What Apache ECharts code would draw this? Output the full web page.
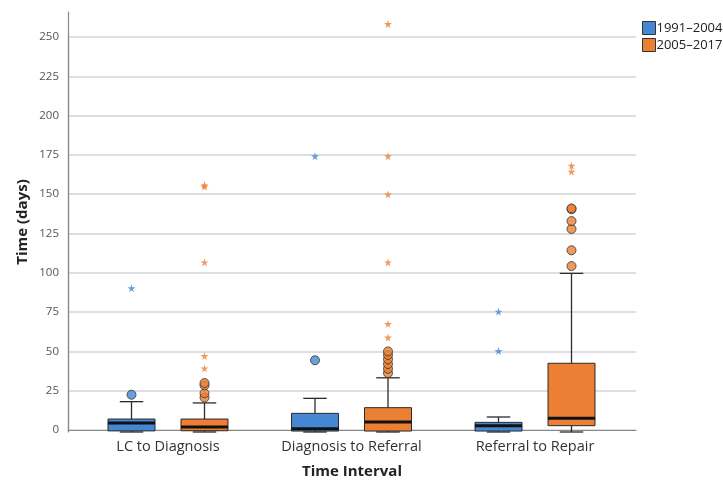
<!DOCTYPE html>
<html><head><meta charset="utf-8">
<script src="https://cdn.jsdelivr.net/npm/echarts@6/dist/echarts.min.js"></script>
<style>html,body{margin:0;padding:0;background:#fff}#c{width:723px;height:484px}</style>
</head><body><div id="c"></div>
<script>
const categories = ['LC to Diagnosis', 'Diagnosis to Referral', 'Referral to Repair'];
const seriesNames = ['1991–2004', '2005–2017'];
const yTicks = [0, 25, 50, 75, 100, 125, 150, 175, 200, 225, 250];
// [min, Q1, median, Q3, max] per category
const box1991 = [[0, 0.7, 5.7, 8.2, 19.2], [0, 0.6, 2.1, 11.8, 21.3], [0, 0.6, 4.0, 6.1, 9.5]];
const box2005 = [[0, 0.8, 3.2, 8.2, 18.4], [0, 0.6, 6.3, 15.4, 34.3], [0, 4.0, 8.7, 43.5, 100.4]];
// outliers (circles): [categoryIndex, value]
const out1991 = [[0, 23.6], [1, 45.4]];
const out2005 = [[0, 21.8], [0, 24.5], [0, 29.5], [0, 31], [1, 37.3], [1, 40], [1, 43], [1, 46], [1, 48.8], [1, 51], [2, 105], [2, 115], [2, 128.5], [2, 133.5], [2, 141], [2, 141.5]];
// extremes (stars): [categoryIndex, value]
const ext1991 = [[0, 91], [1, 174.5], [2, 76.2], [2, 51.3]];
const ext2005 = [[0, 40.3], [0, 48.1], [0, 107.4], [0, 155.3], [0, 156.2], [1, 59.8], [1, 68.4], [1, 107.4], [1, 150.4], [1, 174.5], [1, 258.2], [2, 164.8], [2, 168.5]];

const BLUE = '#4587d2', ORANGE = '#eb7f34';
const BOX_W = 47, OFF = 36.5;
const STAR = 'path://M50,0 L61,35 L98,35 L68,57 L79,91 L50,70 L21,91 L32,57 L2,35 L39,35 Z';

function toRows(box) { return box.map((b, i) => [i].concat(b)); }
function makeRender(offset) {
  return function (params, api) {
    const cat = api.value(0);
    const lo = api.coord([cat, api.value(1)]);
    const q1 = api.coord([cat, api.value(2)]);
    const med = api.coord([cat, api.value(3)]);
    const q3 = api.coord([cat, api.value(4)]);
    const hi = api.coord([cat, api.value(5)]);
    const x = lo[0] + offset, hw = BOX_W / 2, cw = BOX_W / 4;
    const st = { stroke: '#2b2b2b', lineWidth: 1.3 };
    return { type: 'group', children: [
      { type: 'line', shape: { x1: x, y1: hi[1], x2: x, y2: q3[1] }, style: st },
      { type: 'line', shape: { x1: x, y1: lo[1], x2: x, y2: q1[1] }, style: st },
      { type: 'line', shape: { x1: x - cw, y1: hi[1], x2: x + cw, y2: hi[1] }, style: st },
      { type: 'line', shape: { x1: x - cw, y1: lo[1], x2: x + cw, y2: lo[1] }, style: st },
      { type: 'rect', shape: { x: x - hw, y: q3[1], width: BOX_W, height: q1[1] - q3[1] }, style: { fill: api.visual('color'), stroke: '#2b2b2b', lineWidth: 1 } },
      { type: 'line', shape: { x1: x - hw, y1: med[1], x2: x + hw, y2: med[1] }, style: { stroke: '#111', lineWidth: 3 } }
    ] };
  };
}

const chart = echarts.init(document.getElementById('c'), null, { renderer: 'canvas' });
const axisFont = 'Open Sans';
chart.setOption({
  animation: false,
  textStyle: { fontFamily: axisFont },
  legend: {
    orient: 'vertical', left: 637, top: 16, itemGap: 3, itemWidth: 13, itemHeight: 13,
    textStyle: { fontSize: 13, color: '#222', fontFamily: axisFont, padding: [0, 0, 0, -4] },
    data: [
      { name: seriesNames[0], icon: 'rect', itemStyle: { color: BLUE, borderColor: '#333', borderWidth: 1 } },
      { name: seriesNames[1], icon: 'rect', itemStyle: { color: ORANGE, borderColor: '#333', borderWidth: 1 } }
    ]
  },
  grid: [
    { left: 68, right: 87, top: 37, bottom: 52 },      // visual grid
    { left: 68, right: 87, top: 12, bottom: 52 },      // axis-line extension
    { left: 76.25, right: 96.25, top: 37, bottom: 52 } // data grid
  ],
  xAxis: [
    { gridIndex: 0, type: 'value', min: 0, max: 1, axisLine: { show: true, lineStyle: { color: '#888', width: 1.2 } }, axisTick: { show: false }, axisLabel: { show: false }, splitLine: { show: false },
      name: 'Time Interval', nameLocation: 'middle', nameGap: 34, nameTextStyle: { fontSize: 15, fontWeight: 'bold', color: '#222', fontFamily: axisFont } },
    { gridIndex: 1, type: 'value', show: false },
    { gridIndex: 2, type: 'category', data: categories, axisLine: { show: false }, axisTick: { show: false }, splitLine: { show: false },
      axisLabel: { fontSize: 14.5, color: '#333', margin: 7, fontFamily: axisFont } }
  ],
  yAxis: [
    { gridIndex: 0, type: 'value', min: 0, max: 250, interval: 25,
      axisLine: { show: true, lineStyle: { color: '#888', width: 1.2 } }, axisTick: { show: false },
      axisLabel: { fontSize: 11.5, color: '#555', margin: 9, fontFamily: axisFont },
      splitLine: { show: true, lineStyle: { color: '#d4d4d4', width: 1.5 } } },
    { gridIndex: 1, type: 'value', min: 0, max: 1, axisLine: { show: true, lineStyle: { color: '#888', width: 1.2 } }, axisTick: { show: false }, axisLabel: { show: false }, splitLine: { show: false },
      name: 'Time (days)', nameLocation: 'middle', nameGap: 38, nameRotate: 90,
      nameTextStyle: { fontSize: 15, fontWeight: 'bold', color: '#222', fontFamily: axisFont, padding: [0, 0, 0, 0] } },
    { gridIndex: 2, type: 'value', min: 0, max: 250, show: false }
  ],
  series: [
    { name: seriesNames[0], type: 'custom', xAxisIndex: 2, yAxisIndex: 2, renderItem: makeRender(-OFF), itemStyle: { color: BLUE }, data: toRows(box1991), encode: { x: 0, y: [1, 2, 3, 4, 5] }, z: 3 },
    { name: seriesNames[1], type: 'custom', xAxisIndex: 2, yAxisIndex: 2, renderItem: makeRender(OFF), itemStyle: { color: ORANGE }, data: toRows(box2005), encode: { x: 0, y: [1, 2, 3, 4, 5] }, z: 3 },
    { name: seriesNames[0], type: 'scatter', xAxisIndex: 2, yAxisIndex: 2, clip: false, symbol: 'circle', symbolSize: 9, symbolOffset: [-OFF, 0], itemStyle: { color: BLUE, borderColor: '#333', borderWidth: 1 }, data: out1991, z: 4 },
    { name: seriesNames[1], type: 'scatter', xAxisIndex: 2, yAxisIndex: 2, clip: false, symbol: 'circle', symbolSize: 9, symbolOffset: [OFF, 0], itemStyle: { color: ORANGE, borderColor: '#333', borderWidth: 1 }, data: out2005, z: 4 },
    { name: seriesNames[0], type: 'scatter', xAxisIndex: 2, yAxisIndex: 2, clip: false, symbol: STAR, symbolSize: 8, symbolOffset: [-OFF, 0], itemStyle: { color: BLUE }, data: ext1991, z: 4 },
    { name: seriesNames[1], type: 'scatter', xAxisIndex: 2, yAxisIndex: 2, clip: false, symbol: STAR, symbolSize: 8, symbolOffset: [OFF, 0], itemStyle: { color: ORANGE }, data: ext2005, z: 4 }
  ]
});
</script></body></html>
